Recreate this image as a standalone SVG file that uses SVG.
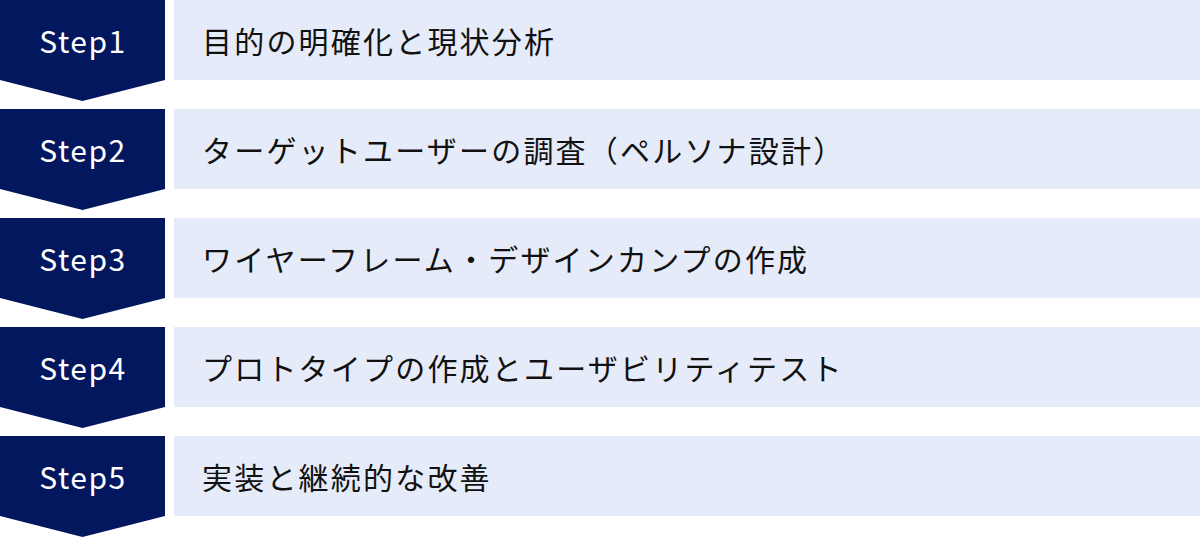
<svg xmlns="http://www.w3.org/2000/svg" width="1200" height="538" viewBox="0 0 1200 538">
<style>
.chev{fill:#03175f}
.box{fill:#e5ebf8}
.step{font-family:"Noto Sans CJK JP","Noto Sans",sans-serif;font-size:30px;fill:#ffffff;text-anchor:middle;letter-spacing:1.5px}
.label{font-family:"Noto Sans CJK JP","Noto Sans",sans-serif;font-size:30px;fill:#111111;letter-spacing:2.2px;dominant-baseline:central}
</style>
<rect width="1200" height="538" fill="#ffffff"/>
<defs>
<path id="chevron" d="M0 0H165V80L82.5 101L0 80Z"/>
</defs>
<g id="step1">
<use href="#chevron" class="chev"/>
<rect class="box" x="174" y="0" width="1026" height="80"/>
<text class="step" x="83" y="53">Step1</text>
<text class="label" x="202" y="40">目的の明確化と現状分析</text>
</g>
<g id="step2" transform="translate(0,109)">
<use href="#chevron" class="chev"/>
<rect class="box" x="174" y="0" width="1026" height="80"/>
<text class="step" x="83" y="53">Step2</text>
<text class="label" x="202" y="40">ターゲットユーザーの調査（ペルソナ設計）</text>
</g>
<g id="step3" transform="translate(0,218)">
<use href="#chevron" class="chev"/>
<rect class="box" x="174" y="0" width="1026" height="80"/>
<text class="step" x="83" y="53">Step3</text>
<text class="label" x="202" y="40">ワイヤーフレーム・デザインカンプの作成</text>
</g>
<g id="step4" transform="translate(0,327)">
<use href="#chevron" class="chev"/>
<rect class="box" x="174" y="0" width="1026" height="80"/>
<text class="step" x="83" y="53">Step4</text>
<text class="label" x="202" y="40">プロトタイプの作成とユーザビリティテスト</text>
</g>
<g id="step5" transform="translate(0,436)">
<use href="#chevron" class="chev"/>
<rect class="box" x="174" y="0" width="1026" height="80"/>
<text class="step" x="83" y="53">Step5</text>
<text class="label" x="202" y="40">実装と継続的な改善</text>
</g>
<g id="connectors"/>
</svg>
